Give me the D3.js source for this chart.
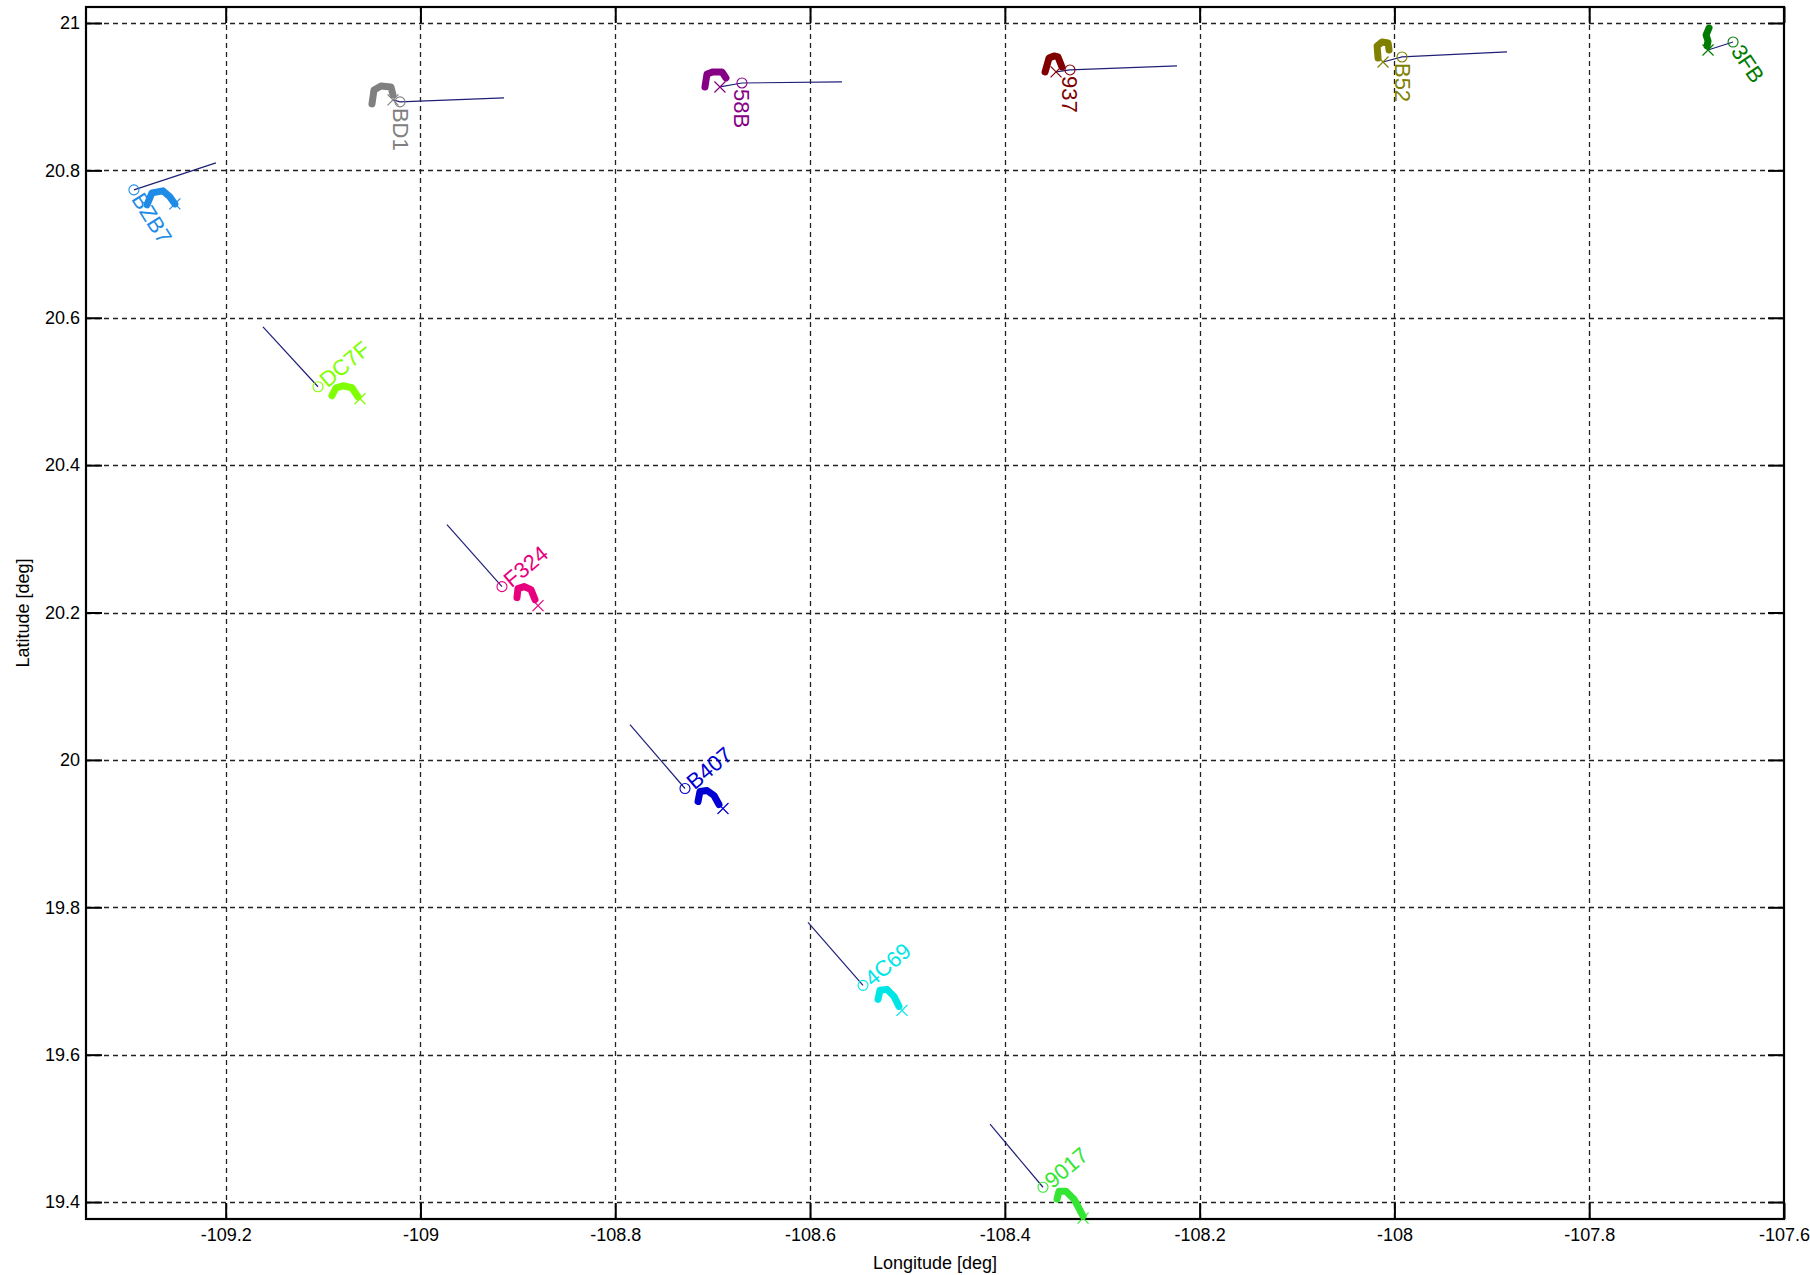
<!DOCTYPE html>
<html>
<head>
<meta charset="utf-8">
<script src="https://cdn.jsdelivr.net/npm/d3@7"></script>
<style>
  body { margin: 0; background: #fff; }
  text { font-family: "Liberation Sans", Arial, Helvetica, sans-serif; }
</style>
</head>
<body>
<svg id="chart" width="1810" height="1275"></svg>
<script>
// Axis ticks
const lonTicks = [-109.2, -109, -108.8, -108.6, -108.4, -108.2, -108, -107.8, -107.6];
const latTicks = [19.4, 19.6, 19.8, 20, 20.2, 20.4, 20.6, 20.8, 21];

// Aircraft identifiers and their plot colours
const ids    = ["BZB7", "BD1", "58B", "937", "B52", "3FB", "DC7F", "F324", "B407", "4C69", "9017"];
const colors = ["#1e8ce6", "#808080", "#860086", "#800000", "#808000", "#007a00",
                "#80ff00", "#e8007f", "#0000d2", "#00e6e6", "#33e633"];

// Recent track history of each aircraft [lon, lat]
const tracks = [
  [[-109.2808, 20.7532], [-109.2757, 20.7695], [-109.2644, 20.7722], [-109.2572, 20.7640], [-109.2521, 20.7545]],
  [[-109.0498, 20.8902], [-109.0477, 20.9091], [-109.0405, 20.9146], [-109.0303, 20.9132], [-109.0282, 20.9024]],
  [[-108.7079, 20.9132], [-108.7058, 20.9308], [-108.6996, 20.9336], [-108.6904, 20.9336], [-108.6863, 20.9254]],
  [[-108.3587, 20.9336], [-108.3546, 20.9525], [-108.3495, 20.9553], [-108.3454, 20.9539], [-108.3413, 20.9403]],
  [[-108.0168, 20.9525], [-108.0178, 20.9688], [-108.0127, 20.9742], [-108.0065, 20.9729], [-108.0055, 20.9634]],
  [[-107.6770, 20.9932], [-107.6800, 20.9837], [-107.6780, 20.9756], [-107.6790, 20.9688]],
  [[-109.0909, 20.4942], [-109.0867, 20.5050], [-109.0796, 20.5077], [-109.0703, 20.5050], [-109.0642, 20.4928]],
  [[-108.9009, 20.2202], [-108.8999, 20.2324], [-108.8937, 20.2352], [-108.8865, 20.2311], [-108.8824, 20.2175]],
  [[-108.7150, 19.9436], [-108.7130, 19.9572], [-108.7058, 19.9585], [-108.6986, 19.9517], [-108.6935, 19.9395]],
  [[-108.5302, 19.6751], [-108.5282, 19.6873], [-108.5210, 19.6886], [-108.5138, 19.6791], [-108.5087, 19.6656]],
  [[-108.3464, 19.4039], [-108.3444, 19.4147], [-108.3372, 19.4147], [-108.3290, 19.4039], [-108.3228, 19.3889], [-108.3197, 19.3808]]
];

// Latest reported position (x marker)
const posLon = [-109.2521, -109.0282, -108.6925, -108.3474, -108.0117, -107.6780, -109.0621, -108.8793, -108.6894, -108.5056, -108.3197];
const posLat = [20.7545, 20.8956, 20.9132, 20.9336, 20.9471, 20.9634, 20.4901, 20.2094, 19.9341, 19.6602, 19.3781];

// Label anchor (o marker)
const tagLon = [-109.2942, -109.0210, -108.6699, -108.3331, -107.9922, -107.6523, -109.1052, -108.9163, -108.7284, -108.5456, -108.3608];
const tagLat = [20.7735, 20.8929, 20.9186, 20.9363, 20.9539, 20.9742, 20.5064, 20.2352, 19.9612, 19.6941, 19.4201];

// Far end of the projected heading line
const headLon = [-109.2100, -108.9142, -108.5672, -108.2232, -107.8844, null, -109.1617, -108.9728, -108.7849, -108.6021, -108.4152];
const headLat = [20.8101, 20.8983, 20.9200, 20.9417, 20.9607, null, 20.5877, 20.3192, 20.0480, 19.7795, 19.5056];

// Label text direction (degrees, clockwise)
const tagAngle = [58, 90, 90, 90, 90, 56, -40, -40, -40, -40, -40];

const svg = d3.select("#chart");
const W = 1810, H = 1275;
const plot = { left: 86, right: 1784, top: 7, bottom: 1219 };

const x = d3.scaleLinear().domain([-109.3434, -107.6]).range([plot.left, plot.right]);
const y = d3.scaleLinear().domain([19.377, 21.0217]).range([plot.bottom, plot.top]);

svg.append("rect").attr("width", W).attr("height", H).attr("fill", "#fff");

const fmt = d => String(+d.toFixed(1));

// Grid
const grid = svg.append("g").attr("stroke", "#222").attr("stroke-width", 1.3)
  .attr("stroke-dasharray", "5,4").attr("fill", "none");
grid.selectAll("line.gx").data(lonTicks.filter(d => x(d) < plot.right - 2)).join("line")
  .attr("x1", d => Math.round(x(d)) + 0.5).attr("x2", d => Math.round(x(d)) + 0.5)
  .attr("y1", plot.top).attr("y2", plot.bottom);
grid.selectAll("line.gy").data(latTicks).join("line")
  .attr("y1", d => Math.round(y(d)) + 0.5).attr("y2", d => Math.round(y(d)) + 0.5)
  .attr("x1", plot.left).attr("x2", plot.right);

// Axes with inward ticks on all four sides
const tick = 16;
const styleAxis = g => {
  g.select(".domain").remove();
  g.selectAll(".tick line").attr("stroke", "#000").attr("stroke-width", 2);
  g.selectAll(".tick text").attr("fill", "#000").attr("font-size", 18);
};
svg.append("g").attr("transform", `translate(0,${plot.bottom})`)
  .call(d3.axisBottom(x).tickValues(lonTicks).tickFormat(fmt).tickSize(-tick).tickPadding(9))
  .call(styleAxis);
svg.append("g").attr("transform", `translate(0,${plot.top})`)
  .call(d3.axisTop(x).tickValues(lonTicks).tickFormat("").tickSize(-tick))
  .call(styleAxis);
svg.append("g").attr("transform", `translate(${plot.left},0)`)
  .call(d3.axisLeft(y).tickValues(latTicks).tickFormat(fmt).tickSize(-tick).tickPadding(6))
  .call(styleAxis);
svg.append("g").attr("transform", `translate(${plot.right},0)`)
  .call(d3.axisRight(y).tickValues(latTicks).tickFormat("").tickSize(-tick))
  .call(styleAxis);

svg.append("rect")
  .attr("x", plot.left).attr("y", plot.top)
  .attr("width", plot.right - plot.left).attr("height", plot.bottom - plot.top)
  .attr("fill", "none").attr("stroke", "#000").attr("stroke-width", 2.2);

// Axis titles
svg.append("text").attr("x", (plot.left + plot.right) / 2).attr("y", 1269)
  .attr("text-anchor", "middle").attr("font-size", 18).text("Longitude [deg]");
svg.append("text").attr("transform", `translate(29,${(plot.top + plot.bottom) / 2}) rotate(-90)`)
  .attr("text-anchor", "middle").attr("font-size", 18).text("Latitude [deg]");

// Aircraft
const trackLine = d3.line().x(d => x(d[0])).y(d => y(d[1]));
const lead = d3.line().x(d => x(d[0])).y(d => y(d[1]));

ids.forEach((id, i) => {
  const g = svg.append("g");
  const c = colors[i];

  // heading line: from the latest fix through the label anchor, or from the far end to it
  let pts;
  if (headLon[i] === null) {
    pts = [[posLon[i], posLat[i]], [tagLon[i], tagLat[i]]];
  } else if (tagAngle[i] === 90) {
    pts = [[posLon[i], posLat[i]], [tagLon[i], tagLat[i]], [headLon[i], headLat[i]]];
  } else {
    pts = [[headLon[i], headLat[i]], [tagLon[i], tagLat[i]]];
  }
  g.append("path").attr("d", lead(pts)).attr("fill", "none")
    .attr("stroke", "#1f1f78").attr("stroke-width", 1.2);

  g.append("path").attr("d", trackLine(tracks[i])).attr("fill", "none")
    .attr("stroke", c).attr("stroke-width", 7)
    .attr("stroke-linecap", "round").attr("stroke-linejoin", "round");

  const px = x(posLon[i]), py = y(posLat[i]), s = 5.5;
  g.append("path").attr("d", `M${px - s},${py - s}L${px + s},${py + s}M${px - s},${py + s}L${px + s},${py - s}`)
    .attr("stroke", c).attr("stroke-width", 1.2);

  const tx = x(tagLon[i]), ty = y(tagLat[i]);
  g.append("circle").attr("cx", tx).attr("cy", ty).attr("r", 5)
    .attr("fill", "none").attr("stroke", c).attr("stroke-width", 1.1);
  g.append("text").attr("transform", `translate(${tx},${ty}) rotate(${tagAngle[i]})`)
    .attr("dx", 6).attr("dominant-baseline", "central")
    .attr("font-size", 22).attr("fill", c).text(id);
});
</script>
</body>
</html>
